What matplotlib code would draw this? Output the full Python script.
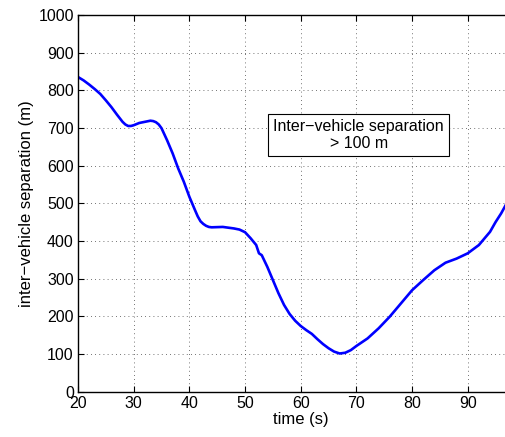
import matplotlib
matplotlib.use("Agg")
import matplotlib.pyplot as plt

time_s = [20, 21, 22, 23, 24, 25, 26, 27, 28, 28.5, 29, 29.5, 30, 31, 32, 33, 33.5, 34, 34.5, 35, 36, 37, 38, 39, 40, 41, 41.5, 42, 42.5, 43, 43.5, 44,
          46, 48, 49, 50, 51, 52, 52.5, 53, 54, 55, 56, 57, 58, 59, 60, 61, 62, 63, 64, 65,
          66, 67, 68, 69, 70, 72, 74, 76, 78, 80, 82, 84, 86, 88, 90, 92, 94, 95, 96, 97]
separation_m = [835, 826, 815, 803, 790, 773, 755, 735, 716, 709, 705, 705, 707, 713, 716, 719, 718, 715, 709, 699, 667, 632, 592, 557, 517, 482, 465, 452, 445, 440, 437, 436,
                437, 433, 430, 423, 407, 389, 367, 362, 331, 296, 261, 230, 206, 188, 174, 163, 153, 139, 126, 115,
                106, 101, 103, 110, 121, 141, 168, 199, 234, 269, 296, 322, 342, 353, 367, 389, 424, 450, 473, 500]

x_ticks = [20, 30, 40, 50, 60, 70, 80, 90]
y_ticks = [0, 100, 200, 300, 400, 500, 600, 700, 800, 900, 1000]

plt.rcParams['font.family'] = ['Liberation Sans', 'DejaVu Sans']

fig = plt.figure(figsize=(5.05, 4.37), dpi=100)
ax = fig.add_axes([0.1545, 0.104, 0.882, 0.862])
ax.plot(time_s, separation_m, color='#0000ff', linewidth=1.9)
ax.set_xlim(20, 100)
ax.set_ylim(0, 1000)
ax.set_xticks(x_ticks)
ax.set_yticks(y_ticks)
ax.tick_params(direction='in', labelsize=11.5, length=4, top=True, right=True, pad=3)
ax.grid(True, linestyle=(0, (1, 4)), color='#444444', linewidth=0.6)
for s in ax.spines.values():
    s.set_linewidth(1.0)
ax.set_xlabel('time (s)', fontsize=12, labelpad=1)
ax.set_ylabel('inter\u2212vehicle separation (m)', fontsize=12, labelpad=3)
ax.text(70.4, 681, 'Inter\u2212vehicle separation\n> 100 m', ha='center', va='center', fontsize=11.5,
        linespacing=1.15,
        bbox=dict(boxstyle='square,pad=0.33', facecolor='white', edgecolor='black', linewidth=0.8))
fig.savefig('out.png', dpi=100)
